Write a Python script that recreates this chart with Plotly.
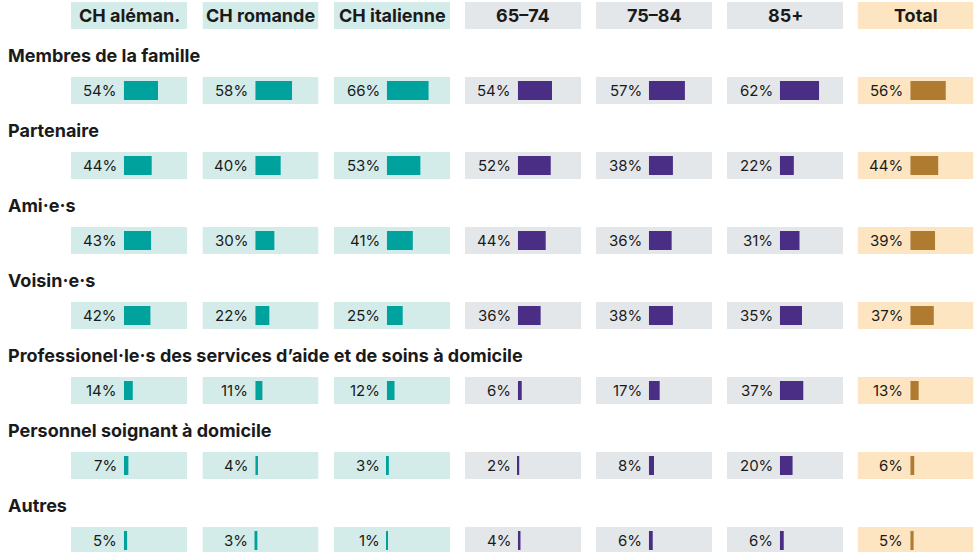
import plotly.graph_objects as go

categories = [
    "Membres de la famille",
    "Partenaire",
    "Ami·e·s",
    "Voisin·e·s",
    "Professionel·le·s des services d’aide et de soins à domicile",
    "Personnel soignant à domicile",
    "Autres",
]
groups = ["CH aléman.", "CH romande", "CH italienne", "65–74", "75–84", "85+", "Total"]
ch_aleman = [54, 44, 43, 42, 14, 7, 5]
ch_romande = [58, 40, 30, 22, 11, 4, 3]
ch_italienne = [66, 53, 41, 25, 12, 3, 1]
age_65_74 = [54, 52, 44, 36, 6, 2, 4]
age_75_84 = [57, 38, 36, 38, 17, 8, 6]
age_85p = [62, 22, 31, 35, 37, 20, 6]
total = [56, 44, 39, 37, 13, 6, 5]
series = [ch_aleman, ch_romande, ch_italienne, age_65_74, age_75_84, age_85p, total]

TEAL, TEAL_BG = "#00A29D", "#D3ECE9"
PURPLE, GREY_BG = "#4A2D85", "#E4E7EA"
BROWN, PEACH_BG = "#AE7B31", "#FDE5C1"
bar_colors = [TEAL, TEAL, TEAL, PURPLE, PURPLE, PURPLE, BROWN]
bg_colors = [TEAL_BG, TEAL_BG, TEAL_BG, GREY_BG, GREY_BG, GREY_BG, PEACH_BG]

W, H = 976, 552
FONT = "Inter, Roboto, 'Noto Sans', sans-serif"
TXT = "#1a1a1a"
XMIN, XMAX = -84, 100
col_left = [71, 202.5, 334, 465, 596, 727, 857.5]
col_w = 116

rows = list(range(len(categories)))
fig = go.Figure()
layout = dict(
    width=W, height=H, margin=dict(l=0, r=0, t=0, b=0),
    paper_bgcolor="white", plot_bgcolor="rgba(0,0,0,0)",
    barmode="overlay", showlegend=False,
    font=dict(family=FONT, color=TXT),
    yaxis=dict(range=[(H - 90.5) / 75, -90.5 / 75], visible=False, fixedrange=True),
)
annotations = []
for i, (g, vals) in enumerate(zip(groups, series)):
    xa = "x" if i == 0 else f"x{i+1}"
    key = "xaxis" if i == 0 else f"xaxis{i+1}"
    layout[key] = dict(
        domain=[col_left[i] / W, (col_left[i] + col_w) / W],
        range=[XMIN, XMAX], visible=False, fixedrange=True, anchor="y",
    )
    # background bands (header + rows)
    fig.add_trace(go.Bar(
        orientation="h", y=[-1] + rows, x=[XMAX - XMIN] * (len(rows) + 1), base=XMIN,
        width=0.36, marker=dict(color=bg_colors[i], line=dict(width=0)),
        xaxis=xa, yaxis="y", hoverinfo="skip",
    ))
    # value bars
    fig.add_trace(go.Bar(
        orientation="h", y=rows, x=vals, base=0, width=0.253,
        marker=dict(color=bar_colors[i], line=dict(width=0)),
        xaxis=xa, yaxis="y",
    ))
    # value labels
    for r, v in zip(rows, vals):
        annotations.append(dict(
            x=-8, y=r, xref=xa, yref="y", text=f"{v}%", showarrow=False,
            xanchor="right", yanchor="middle", font=dict(size=15, color=TXT, family=FONT),
        ))
    # header
    annotations.append(dict(
        x=(XMIN + XMAX) / 2, y=-1, xref=xa, yref="y", text=f"<b>{g}</b>",
        showarrow=False, xanchor="center", yanchor="middle",
        font=dict(size=18, color=TXT, family=FONT),
    ))

for r, c in zip(rows, categories):
    annotations.append(dict(
        x=6 / W, y=r - 35.5 / 75, xref="paper", yref="y", text=f"<b>{c}</b>",
        showarrow=False, xanchor="left", yanchor="middle",
        font=dict(size=18, color=TXT, family=FONT),
    ))

layout["annotations"] = annotations
fig.update_layout(**layout)
fig.write_html(
    "out.html",
    config={"displayModeBar": False},
    post_script="document.body.style.margin='0';document.body.style.padding='0';",
)
